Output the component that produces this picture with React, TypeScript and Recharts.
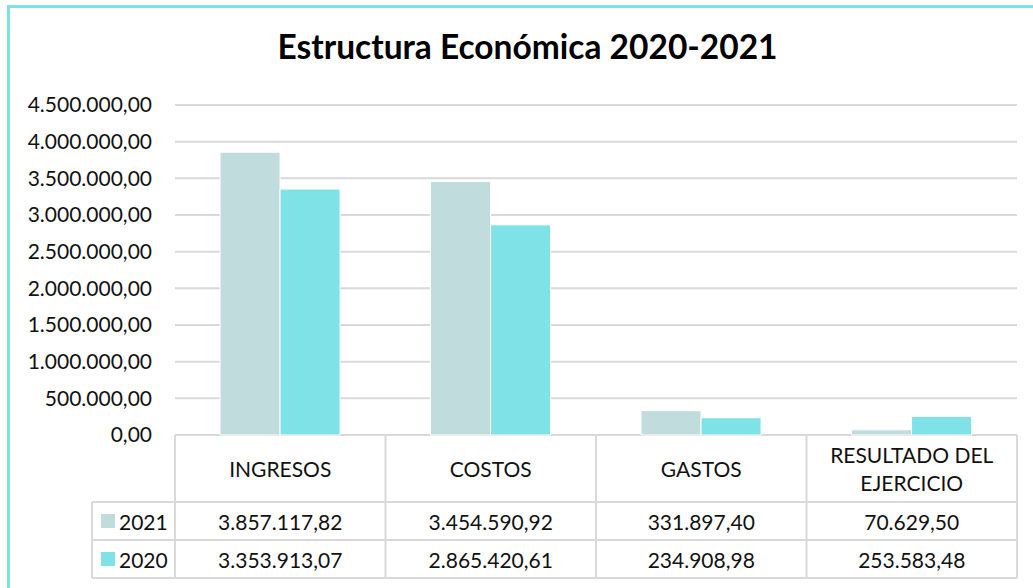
import React from 'react';
import { BarChart, Bar, XAxis, YAxis, CartesianGrid } from 'recharts';

const categories = ['INGRESOS', 'COSTOS', 'GASTOS', 'RESULTADO DEL EJERCICIO'];
const categoryLines = [['INGRESOS'], ['COSTOS'], ['GASTOS'], ['RESULTADO DEL', 'EJERCICIO']];
const values2021 = [3857117.82, 3454590.92, 331897.4, 70629.5];
const values2020 = [3353913.07, 2865420.61, 234908.98, 253583.48];
const yTicks = [0, 500000, 1000000, 1500000, 2000000, 2500000, 3000000, 3500000, 4000000, 4500000];

const FONT = 'Lato, "Open Sans", sans-serif';
const FS = 21;
const C2021 = '#c0dcdc';
const C2020 = '#7fe2e7';
const GRID = '#d9d9d9';

const PLOT_LEFT = 175;
const PLOT_RIGHT = 1017;
const CELL_W = (PLOT_RIGHT - PLOT_LEFT) / categories.length;
const LEGEND_LEFT = 92;

function fmt(n: number) {
    const [int, dec] = n.toFixed(2).split('.');
    return int.replace(/\B(?=(\d{3})+(?!\d))/g, '.') + ',' + dec;
}

const data = categories.map((name, i) => ({
    name,
    y2021: values2021[i],
    y2020: values2020[i],
}));

// data table drawn under each category
function TableTick(props: any) {
    const { x, y, payload } = props;
    const i = payload.index;
    const left = x - CELL_W / 2;
    const right = x + CELL_W / 2;
    const rowTop = y;
    const r1 = y + 67;
    const r2 = y + 105;
    const r3 = y + 143;
    const lines = categoryLines[i];
    const textStyle = { fontFamily: FONT, fontSize: FS, fill: '#111' };
    return (
        <g>
            <line x1={right} y1={rowTop} x2={right} y2={r3} stroke={GRID} strokeWidth={2} />
            {i === 0 && (
                <g>
                    <line x1={left} y1={rowTop} x2={left} y2={r3} stroke={GRID} strokeWidth={2} />
                    <line x1={LEGEND_LEFT} y1={r1} x2={LEGEND_LEFT} y2={r3} stroke={GRID} strokeWidth={2} />
                    <line x1={LEGEND_LEFT} y1={r1} x2={left} y2={r1} stroke={GRID} strokeWidth={2} />
                    <line x1={LEGEND_LEFT} y1={r2} x2={left} y2={r2} stroke={GRID} strokeWidth={2} />
                    <line x1={LEGEND_LEFT} y1={r3} x2={left} y2={r3} stroke={GRID} strokeWidth={2} />
                    <rect x={101} y={r1 + 12} width={14} height={14} fill={C2021} />
                    <text x={119} y={r1 + 19} dominantBaseline="central" {...textStyle}>2021</text>
                    <rect x={101} y={r2 + 12} width={14} height={14} fill={C2020} />
                    <text x={119} y={r2 + 19} dominantBaseline="central" {...textStyle}>2020</text>
                </g>
            )}
            <line x1={left} y1={r1} x2={right} y2={r1} stroke={GRID} strokeWidth={2} />
            <line x1={left} y1={r2} x2={right} y2={r2} stroke={GRID} strokeWidth={2} />
            <line x1={left} y1={r3} x2={right} y2={r3} stroke={GRID} strokeWidth={2} />
            {lines.map((t, k) => (
                <text key={k} x={x} y={rowTop + 33 + (k - (lines.length - 1) / 2) * 28}
                    textAnchor="middle" dominantBaseline="central" {...textStyle}>{t}</text>
            ))}
            <text x={x} y={r1 + 19} textAnchor="middle" dominantBaseline="central" {...textStyle}>{fmt(values2021[i])}</text>
            <text x={x} y={r2 + 19} textAnchor="middle" dominantBaseline="central" {...textStyle}>{fmt(values2020[i])}</text>
        </g>
    );
}

export default function App() {
    return (
        <div style={{ position: 'absolute', left: 0, top: 0, width: 1033, height: 588, overflow: 'hidden', background: '#fff' }}>
            <div style={{
                position: 'absolute', left: 7, top: 5, width: 1050, height: 600,
                border: '3px solid #7fe0e6', boxSizing: 'border-box',
            }} />
            <div style={{
                position: 'absolute', left: 0, top: 24, width: 1055, textAlign: 'center',
                fontFamily: FONT, fontWeight: 700, fontSize: 33.5, color: '#000', lineHeight: '44px',
            }}>
                Estructura Económica 2020-2021
            </div>
            <div style={{ position: 'absolute', left: 0, top: 0 }}>
                <BarChart
                    width={1033}
                    height={588}
                    data={data}
                    margin={{ top: 105, right: 1033 - PLOT_RIGHT, left: 0, bottom: 10 }}
                    barCategoryGap="21.4%"
                    barGap={0}
                >
                    <CartesianGrid vertical={false} stroke={GRID} strokeWidth={2} />
                    <YAxis
                        width={PLOT_LEFT}
                        domain={[0, 4500000]}
                        ticks={yTicks}
                        interval={0}
                        axisLine={false}
                        tickLine={false}
                        tickSize={6}
                        tickMargin={17}
                        tickFormatter={fmt}
                        tick={{ fontFamily: FONT, fontSize: FS, fill: '#111' }}
                    />
                    <XAxis
                        dataKey="name"
                        height={143}
                        axisLine={false}
                        tickLine={false}
                        tickSize={0}
                        tickMargin={0}
                        interval={0}
                        tick={<TableTick />}
                    />
                    <Bar dataKey="y2021" fill={C2021} stroke="#fff" strokeWidth={1} isAnimationActive={false} />
                    <Bar dataKey="y2020" fill={C2020} stroke="#fff" strokeWidth={1} isAnimationActive={false} />
                </BarChart>
            </div>
        </div>
    );
}
